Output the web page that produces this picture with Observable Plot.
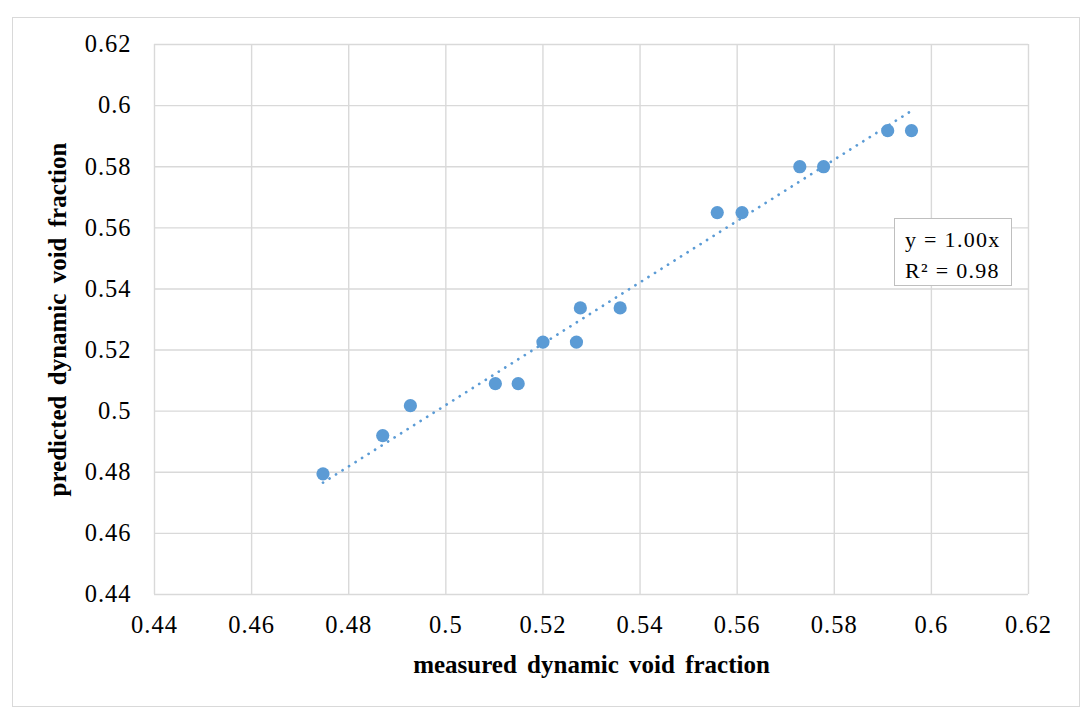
<!DOCTYPE html>
<html>
<head>
<meta charset="utf-8">
<script src="https://cdn.jsdelivr.net/npm/d3@7"></script>
<script src="https://cdn.jsdelivr.net/npm/@observablehq/plot@0.6"></script>
<style>
  html, body { margin: 0; padding: 0; background: #fff; }
  #wrap { position: relative; width: 1090px; height: 717px; overflow: hidden; }
  #outer { position: absolute; left: 12px; top: 17px; width: 1066px; height: 688px; border: 1.5px solid #d9d9d9; pointer-events: none; }
  #eq { position: absolute; left: 894px; top: 218px; width: 118px; height: 68px; border: 1.5px solid #bfbfbf; background: #fff;
        font-family: "Liberation Serif", serif; font-size: 22px; line-height: 31px; letter-spacing: 1.3px; color: #000;
        padding: 4.5px 0 0 10px; box-sizing: border-box; white-space: nowrap; }
  g[font-weight="bold"] text { word-spacing: 4px; }
  g[aria-label="x-axis tick label"] text, g[aria-label="y-axis tick label"] text { letter-spacing: 1px; }
  #chart svg { position: absolute; left: 0; top: 0; }
</style>
</head>
<body>
<div id="wrap">
  <div id="chart"></div>
  <div id="outer"></div>
  <div id="eq"></div>
</div>
<script>
// Data
const measured  = [0.4747, 0.4870, 0.4927, 0.5102, 0.5149, 0.5200, 0.5269, 0.5277, 0.5359, 0.5559, 0.5610, 0.5729, 0.5778, 0.5910, 0.5959];
const predicted = [0.4795, 0.4920, 0.5018, 0.5090, 0.5090, 0.5226, 0.5226, 0.5338, 0.5338, 0.5650, 0.5650, 0.5800, 0.5800, 0.5918, 0.5918];

const xTicks = [0.44, 0.46, 0.48, 0.50, 0.52, 0.54, 0.56, 0.58, 0.60, 0.62];
const xTickLabels = ["0.44", "0.46", "0.48", "0.5", "0.52", "0.54", "0.56", "0.58", "0.6", "0.62"];
const yTicks = [0.44, 0.46, 0.48, 0.50, 0.52, 0.54, 0.56, 0.58, 0.60, 0.62];
const yTickLabels = ["0.44", "0.46", "0.48", "0.5", "0.52", "0.54", "0.56", "0.58", "0.6", "0.62"];

const xTitle = "measured dynamic void fraction";
const yTitle = "predicted dynamic void fraction";
const eqLines = ["y = 1.00x", "R\u00B2 = 0.98"];

const points = measured.map((x, i) => ({x, y: predicted[i]}));

// Linear trendline through the origin (least squares), over the data x-range
const slope = d3.sum(points, d => d.x * d.y) / d3.sum(points, d => d.x * d.x);
const [minX, maxX] = d3.extent(measured);
const trend = [{x: minX, y: slope * minX}, {x: maxX, y: slope * maxX}];

const blue = "#5B9BD5";

const chart = Plot.plot({
  width: 1090,
  height: 717,
  marginLeft: 154,
  marginRight: 62,
  marginTop: 44,
  marginBottom: 123,
  style: {fontFamily: "Liberation Serif, serif", fontSize: "24px", color: "#000", background: "transparent"},
  x: {domain: [0.44, 0.62]},
  y: {domain: [0.44, 0.62]},
  marks: [
    Plot.gridX(xTicks, {stroke: "#d9d9d9", strokeOpacity: 1, strokeWidth: 1.4}),
    Plot.gridY(yTicks, {stroke: "#d9d9d9", strokeOpacity: 1, strokeWidth: 1.4}),
    Plot.axisX({ticks: xTicks, tickSize: 0, tickPadding: 21, label: null,
      tickFormat: (d, i) => xTickLabels[i], fontSize: 24.5}),
    Plot.axisY({ticks: yTicks, tickSize: 0, tickPadding: 23, label: null,
      tickFormat: (d, i) => yTickLabels[i], fontSize: 24.5}),
    Plot.line(trend, {x: "x", y: "y", stroke: blue, strokeWidth: 2.7,
      strokeDasharray: "0.1 7.6", strokeLinecap: "round"}),
    Plot.dot(points, {x: "x", y: "y", r: 6.6, fill: blue, stroke: blue, strokeWidth: 0}),
    Plot.text([xTitle], {frameAnchor: "bottom", lineAnchor: "middle", textAnchor: "middle", dy: 70,
      fontWeight: "bold", fontSize: 25, fill: "#000"}),
    Plot.text([yTitle], {frameAnchor: "left", lineAnchor: "middle", textAnchor: "middle", dx: -97, rotate: -90,
      fontWeight: "bold", fontSize: 25, fill: "#000"})
  ]
});
document.getElementById("chart").appendChild(chart);

document.getElementById("eq").innerHTML = eqLines.map(s => `<div>${s}</div>`).join("");
</script>
</body>
</html>
